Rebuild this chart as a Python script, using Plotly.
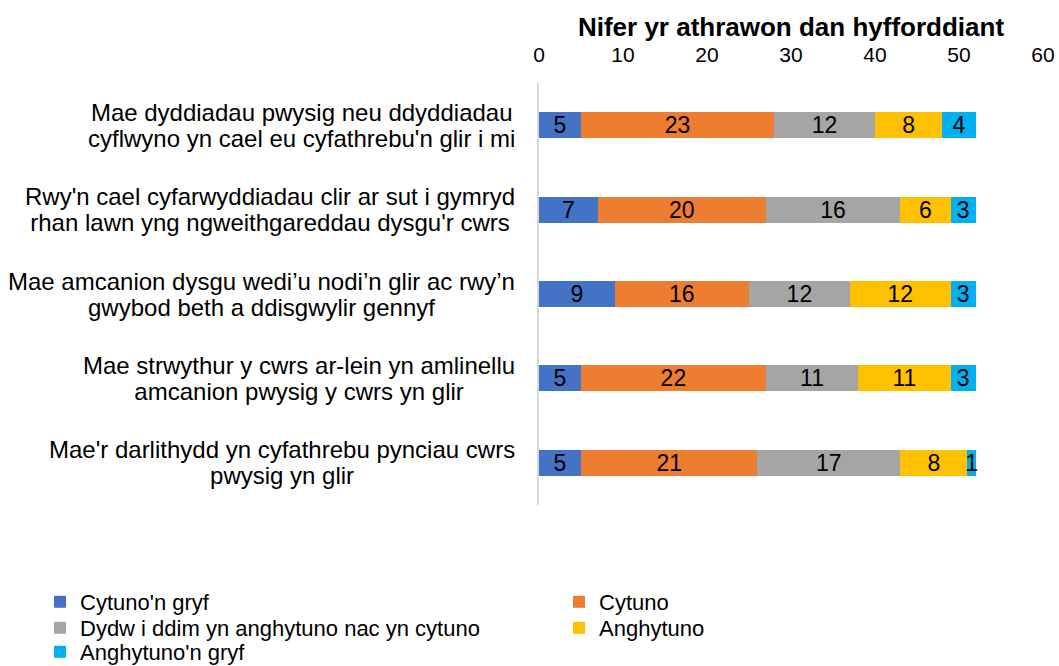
import plotly.graph_objects as go

categories = [
    "Mae dyddiadau pwysig neu ddyddiadau<br>cyflwyno yn cael eu cyfathrebu'n glir i mi",
    "Rwy'n cael cyfarwyddiadau clir ar sut i gymryd<br>rhan lawn yng ngweithgareddau dysgu'r cwrs",
    "Mae amcanion dysgu wedi’u nodi’n glir ac rwy’n<br>gwybod beth a ddisgwylir gennyf",
    "Mae strwythur y cwrs ar-lein yn amlinellu<br>amcanion pwysig y cwrs yn glir",
    "Mae'r darlithydd yn cyfathrebu pynciau cwrs<br>pwysig yn glir",
]
series_names = [
    "Cytuno'n gryf",
    "Cytuno",
    "Dydw i ddim yn anghytuno nac yn cytuno",
    "Anghytuno",
    "Anghytuno'n gryf",
]
cytuno_n_gryf = [5, 7, 9, 5, 5]
cytuno = [23, 20, 16, 22, 21]
niwtral = [12, 16, 12, 11, 17]
anghytuno = [8, 6, 12, 11, 8]
anghytuno_n_gryf = [4, 3, 3, 3, 1]
series_values = [cytuno_n_gryf, cytuno, niwtral, anghytuno, anghytuno_n_gryf]
colors = ["#4472C4", "#ED7D31", "#A5A5A5", "#FFC000", "#00B0F0"]
legend_rows = ["legend", "legend", "legend2", "legend2", "legend3"]
x_title = "Nifer yr athrawon dan hyfforddiant"
x_ticks = [0, 10, 20, 30, 40, 50, 60]

font_family = "Liberation Sans, Arial, sans-serif"

W, H = 1059, 666
L, R, T, B = 539, 16, 83, 161
plot_w = W - L - R
plot_h = H - T - B

fig = go.Figure()
for name, vals, col, lg in zip(series_names, series_values, colors, legend_rows):
    fig.add_trace(go.Bar(
        y=categories, x=vals, name=name, orientation="h",
        marker=dict(color=col, line=dict(width=0)),
        text=[str(v) for v in vals], textposition="inside",
        insidetextanchor="middle", textangle=0,
        textfont=dict(color="black", size=23, family=font_family),
        hoverinfo="skip", legend=lg,
    ))

for cat in categories:
    lines = cat.split("<br>")
    label = "<br>".join('<span style="font-size:24px">' + ln + "</span>" for ln in lines)
    fig.add_annotation(
        xref="paper", x=0, xshift=-22, xanchor="right",
        yref="y", y=cat, yanchor="middle",
        text=label, showarrow=False, align="center",
        font=dict(size=20, color="black", family=font_family),
    )


def legend_at(row_center_px):
    return dict(orientation="h", x=(40 - L) / plot_w, xanchor="left",
                y=(H - B - row_center_px) / plot_h, yanchor="middle",
                traceorder="normal", entrywidth=474, entrywidthmode="pixels",
                bgcolor="rgba(0,0,0,0)",
                font=dict(size=22, color="black", family=font_family),
                itemclick=False, itemdoubleclick=False)


fig.update_layout(
    width=W, height=H,
    barmode="stack", bargap=0.69,
    plot_bgcolor="white", paper_bgcolor="white",
    margin=dict(l=L, r=R, t=T, b=B, autoexpand=False),
    font=dict(family=font_family, color="black"),
    uniformtext=dict(minsize=23, mode="show"),
    title=dict(text="<b>" + x_title + "</b>", x=0.5, xref="paper",
               y=1 - 27 / H, yref="container", yanchor="middle", xanchor="center",
               font=dict(size=26, color="black", family=font_family)),
    showlegend=True,
    legend=legend_at(602),
    legend2=legend_at(628),
    legend3=legend_at(652),
)
fig.update_xaxes(side="top", range=[0, 60], tickvals=x_ticks, showgrid=False,
                 zeroline=False, showline=False, ticks="outside", ticklen=12,
                 tickcolor="rgba(0,0,0,0)",
                 tickfont=dict(size=21, color="black", family=font_family))
fig.update_yaxes(autorange="reversed", showticklabels=False, showgrid=False,
                 showline=True, linecolor="#D9D9D9", linewidth=2, ticks="",
                 zeroline=False)

fig.write_html("out.html", config={"displayModeBar": False},
               post_script="document.body.style.margin='0';")
